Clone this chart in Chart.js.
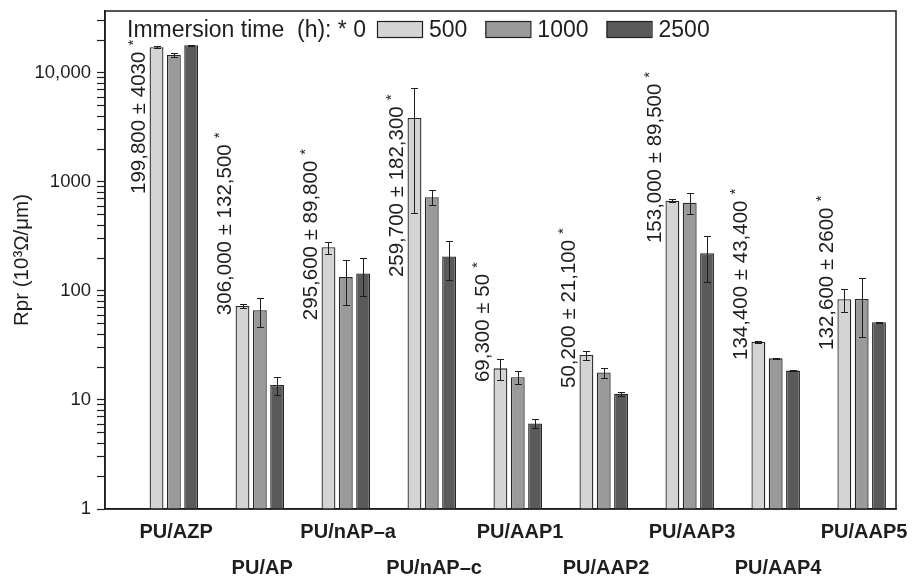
<!DOCTYPE html>
<html>
<head>
<meta charset="utf-8">
<script src="https://cdn.jsdelivr.net/npm/chart.js@4.4.1/dist/chart.umd.min.js"></script>
<style>
  html, body { margin: 0; padding: 0; background: #fff; }
  #wrap { width: 914px; height: 577px; }
</style>
</head>
<body>
<div id="wrap"><canvas id="myChart" width="914" height="577"></canvas></div>
<script>
// sample groups
var categories = ['PU/AZP', 'PU/AP', 'PU/nAP\u2013a', 'PU/nAP\u2013c', 'PU/AAP1', 'PU/AAP2', 'PU/AAP3', 'PU/AAP4', 'PU/AAP5'];
var hours = ['0', '500', '1000', '2500'];

// Rpr (10^3 ohm/um) after immersion, with +/- error
var r500  = [17200, 72.8, 252, 3870, 19.5, 25.9, 674, 34.3, 84];
var e500  = [400, 3, 32, 3350, 4.3, 2.5, 20, 0.8, 20];
var r1000 = [14600, 66.5, 134, 724, 16.2, 17.9, 646, 24.1, 84.5];
var e1000 = [600, 20, 60, 115, 2.3, 1.9, 140, 0.3, 47];
var r2500 = [17960, 13.7, 145, 207, 6.1, 11.4, 222, 18.6, 51.6];
var e2500 = [150, 2.7, 55, 80, 0.6, 0.5, 100, 0.3, 0.5];

// 0 h values are off the scale, written as text instead of bars
var zeroNotes = ['199,800 \u00b1 4030', '306,000 \u00b1 132,500', '295,600 \u00b1 89,800', '259,700 \u00b1 182,300',
                 '69,300 \u00b1 50', '50,200 \u00b1 21,100', '153,000 \u00b1 89,500', '134,400 \u00b1 43,400', '132,600 \u00b1 2600'];
var noteBase = [776, 60, 54, 134, 14.6, 12.9, 275, 23.3, 28.8];

var yTicks = [1, 10, 100, 1000, 10000];
var yTickLabels = ['1', '10', '100', '1000', '10,000'];

var ink = '#1e1e1e';
Chart.defaults.font.family = '"Liberation Sans", Arial, sans-serif';
Chart.defaults.color = ink;

function points(vals) {
	return vals.map(function(v, i) { return {x: i, y: v}; });
}

var errs = [null, e500, e1000, e2500];

var errorBars = {
	id: 'errorBars',
	afterDatasetsDraw: function(chart) {
		var ctx = chart.ctx;
		var y = chart.scales.y;
		ctx.save();
		ctx.strokeStyle = ink;
		ctx.lineWidth = 1;
		for (var d = 1; d < 4; d++) {
			var meta = chart.getDatasetMeta(d);
			var vals = chart.data.datasets[d].data;
			meta.data.forEach(function(bar, i) {
				var v = vals[i].y, e = errs[d][i];
				var top = Math.round(y.getPixelForValue(v + e)) + 0.5;
				var bot = Math.round(y.getPixelForValue(v - e)) + 0.5;
				var x = Math.round(bar.x) + 0.5;
				ctx.beginPath();
				ctx.moveTo(x, top); ctx.lineTo(x, bot);
				ctx.moveTo(x - 3.5, top); ctx.lineTo(x + 3.5, top);
				ctx.moveTo(x - 3.5, bot); ctx.lineTo(x + 3.5, bot);
				ctx.stroke();
			});
		}
		ctx.restore();
	}
};

var zeroText = {
	id: 'zeroText',
	afterDatasetsDraw: function(chart) {
		var ctx = chart.ctx;
		var meta = chart.getDatasetMeta(0);
		var y = chart.scales.y;
		ctx.save();
		ctx.fillStyle = ink;
		meta.data.forEach(function(bar, i) {
			ctx.save();
			ctx.translate(bar.x, y.getPixelForValue(noteBase[i]));
			ctx.rotate(-Math.PI / 2);
			ctx.font = '20.5px "Liberation Sans", Arial, sans-serif';
			ctx.textAlign = 'left';
			ctx.textBaseline = 'middle';
			ctx.fillText(zeroNotes[i], 0, 0);
			var w = ctx.measureText(zeroNotes[i]).width;
			ctx.font = '15px "Liberation Sans", Arial, sans-serif';
			ctx.fillText('*', w + 6, -5);
			ctx.restore();
		});
		ctx.restore();
	}
};

var frameAndLegend = {
	id: 'frameAndLegend',
	afterDraw: function(chart) {
		var ctx = chart.ctx;
		var a = chart.chartArea;
		ctx.save();
		ctx.strokeStyle = ink;
		ctx.lineWidth = 1.5;
		ctx.strokeRect(a.left, a.top, a.right - a.left, a.bottom - a.top);

		ctx.font = '23px "Liberation Sans", Arial, sans-serif';
		ctx.textBaseline = 'alphabetic';
		ctx.fillStyle = ink;
		var x = a.left + 22;
		var base = a.top + 26;
		var head = 'Immersion time  (h): * ' + hours[0];
		ctx.fillText(head, x, base);
		x += ctx.measureText(head).width + 11;
		for (var d = 1; d < 4; d++) {
			var ds = chart.data.datasets[d];
			ctx.fillStyle = ds.backgroundColor;
			ctx.fillRect(x, a.top + 10, 45, 16);
			ctx.lineWidth = 1.2;
			ctx.strokeRect(x + 0.5, a.top + 10.5, 45, 16);
			x += 45 + 7;
			ctx.fillStyle = ink;
			ctx.fillText(ds.label, x, base);
			x += ctx.measureText(ds.label).width + 18;
		}
		ctx.restore();
	}
};

new Chart(document.getElementById('myChart'), {
	type: 'bar',
	data: {
		datasets: [
		{
			label: hours[0],
			data: points(categories.map(function() { return null; })),
			backgroundColor: '#ffffff'
		},
		{
			label: hours[1],
			data: points(r500),
			backgroundColor: '#d4d4d4',
			borderColor: '#262626',
			borderWidth: 1.3
		},
		{
			label: hours[2],
			data: points(r1000),
			backgroundColor: '#9a9a9a',
			borderColor: '#262626',
			borderWidth: 1.3
		},
		{
			label: hours[3],
			data: points(r2500),
			backgroundColor: '#5a5a5a',
			borderColor: '#262626',
			borderWidth: 1.3
		}
		]
	},
	options: {
		responsive: false,
		devicePixelRatio: 1,
		animation: false,
		categoryPercentage: 0.806,
		barPercentage: 0.8,
		layout: { padding: { top: 11, right: 18, left: 0, bottom: 0 } },
		plugins: {
			legend: { display: false },
			tooltip: { enabled: false }
		},
		scales: {
			x: {
				type: 'linear',
				offset: false,
				min: -0.7,
				max: 8.5,
				afterBuildTicks: function(scale) {
					scale.ticks = categories.map(function(c, i) { return {value: i}; });
				},
				afterFit: function(scale) {
					scale.height = 68;
					scale.paddingLeft = 0;
					scale.paddingRight = 0;
				},
				grid: { offset: false, drawOnChartArea: false, drawTicks: false },
				border: { color: ink, width: 1.5 },
				ticks: {
					autoSkip: false,
					maxRotation: 0,
					padding: 5,
					labelOffset: 11,
					font: { size: 20, weight: 'bold', lineHeight: 1.8 },
					callback: function(v) {
						var name = categories[Math.round(v)];
						return Math.round(v) % 2 ? ['', name] : name;
					}
				}
			},
			y: {
				type: 'logarithmic',
				min: 1,
				max: 37000,
				afterBuildTicks: function(scale) {
					var t = [];
					for (var p = 1; p <= 10000; p *= 10) {
						for (var s = 1; s < 10; s++) {
							if (p * s <= scale.max) t.push({value: p * s, major: s === 1});
						}
					}
					scale.ticks = t;
				},
				afterFit: function(scale) {
					scale.width = 105;
					scale.paddingTop = 0;
					scale.paddingBottom = 0;
				},
				grid: { drawOnChartArea: false, drawTicks: true, tickLength: 8, tickColor: ink, tickWidth: 1.2 },
				border: { color: ink, width: 1.5 },
				title: {
					display: true,
					text: 'Rpr (10\u00b3\u03a9/\u03bcm)',
					font: { size: 20.5 },
					padding: { top: 10, bottom: 4 }
				},
				ticks: {
					autoSkip: false,
					padding: 6,
					font: { size: 18.5 },
					callback: function(v) {
						var k = yTicks.indexOf(v);
						return k >= 0 ? yTickLabels[k] : '';
					}
				}
			}
		}
	},
	plugins: [errorBars, zeroText, frameAndLegend]
});
</script>
</body>
</html>
